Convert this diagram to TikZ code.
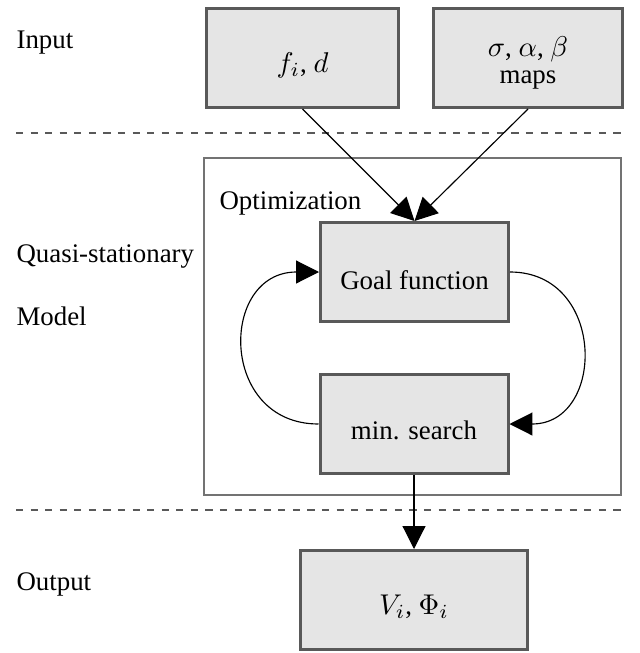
\documentclass[tikz,border=0pt]{standalone}
\usepackage{fontspec}
\setmainfont{Liberation Serif}[Scale=0.94]
\usetikzlibrary{arrows.meta}
\begin{document}
\begin{tikzpicture}[x=0.35pt,y=-0.35pt,
  font=\fontsize{10}{12}\selectfont,
  box/.style={draw=black!65,line width=1.05pt,fill=black!10,inner sep=0pt,
    minimum height={99*0.35pt}},
  low/.style={text height=12pt,text depth=2pt},
  conn/.style={line width=0.4pt,-{Triangle[length=8pt,width=8pt]}},
  sep/.style={draw=black!65,line width=0.45pt,dash pattern=on 2.5pt off 2.6pt},
  lbl/.style={anchor=base west,inner sep=0pt}]
\useasboundingbox (0,0) rectangle (639,653);
% container
\node[draw=black!55,line width=0.4pt,minimum width={417*0.35pt},minimum height={337*0.35pt},inner sep=0pt] (cont) at (412.5,326.5) {};
% separators
\coordinate (s1a) at (16,133); \coordinate (s1b) at (621,133);
\coordinate (s2a) at (16,510); \coordinate (s2b) at (621,510);
\draw[sep] (s1a) -- (s1b);
\draw[sep] (s2a) -- (s2b);
% labels
\node[lbl] (lin) at (16,48) {Input};
\node[lbl] (lqs) at (16,262) {Quasi-stationary};
\node[lbl] (lmod) at (16,325) {Model};
\node[lbl] (lout) at (16,590) {Output};
\node[lbl] (lopt) at (219,209) {Optimization};
% boxes
\node[box,low,minimum width={192*0.35pt}] (fd) at (302.5,58) {$f_i$, $d$};
\node[box,minimum width={189*0.35pt},align=center] (maps) at (528,58) {\rule{0pt}{10.5pt}$\sigma$, $\alpha$, $\beta$\\[-2.7pt]maps};
\node[box,low,text height=14pt,minimum width={188*0.35pt}] (goal) at (414.5,272) {Goal function};
\node[box,low,text height=13pt,minimum width={188*0.35pt}] (min) at (414,424) {min. search};
\node[box,low,minimum width={227*0.35pt}] (out) at (414,600) {$V_i$, $\Phi_i$};
% connectors
\draw[conn] (fd.south) -- (goal.north);
\draw[conn] (maps.south) -- (goal.north);
\draw[conn] (goal.east) to[out=0,in=0,looseness=1.62] (min.east);
\draw[conn] (min.west) to[out=180,in=180,looseness=1.68] (goal.west);
\draw[conn] (min.south) -- (out.north);
\end{tikzpicture}
\end{document}
